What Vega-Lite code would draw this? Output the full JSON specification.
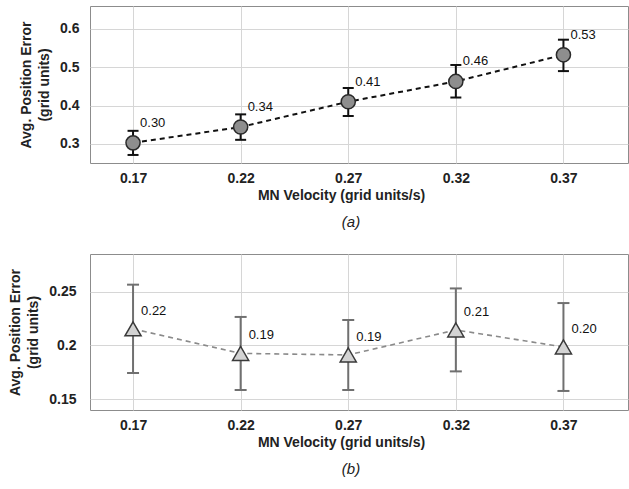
{
  "$schema": "https://vega.github.io/schema/vega-lite/v6.json",
  "padding": {"left": 8, "top": 5, "right": 2, "bottom": 0},
  "spacing": 22,
  "config": {
    "font": "Liberation Sans",
    "view": {"stroke": "#8c8c8c", "strokeWidth": 1},
    "axis": {
      "gridColor": "#d6d6d6",
      "gridWidth": 1,
      "domain": false,
      "ticks": false,
      "labelFontSize": 14,
      "labelFontWeight": "bold",
      "labelColor": "#222222",
      "titleFontSize": 14,
      "titleFontWeight": "bold",
      "titleColor": "#222222"
    }
  },
  "vconcat": [
    {
      "width": 538,
      "height": 157,
      "title": {"text": "(a)", "orient": "bottom", "fontStyle": "italic", "fontWeight": "normal", "fontSize": 15, "color": "#222222", "offset": 13, "anchor": "middle", "dx": -8},
      "data": {
        "values": [
          {"v": 0.17, "mean": 0.3026, "lo": 0.271, "hi": 0.334, "label": "0.30"},
          {"v": 0.22, "mean": 0.344, "lo": 0.3105, "hi": 0.377, "label": "0.34"},
          {"v": 0.27, "mean": 0.41, "lo": 0.373, "hi": 0.4456, "label": "0.41"},
          {"v": 0.32, "mean": 0.463, "lo": 0.421, "hi": 0.506, "label": "0.46"},
          {"v": 0.37, "mean": 0.5325, "lo": 0.49, "hi": 0.572, "label": "0.53"}
        ]
      },
      "encoding": {
        "x": {
          "field": "v", "type": "quantitative",
          "scale": {"domain": [0.15, 0.40], "nice": false, "zero": false},
          "axis": {"values": [0.17, 0.22, 0.27, 0.32, 0.37], "format": ".2f", "labelPadding": 8, "title": "MN Velocity (grid units/s)", "titlePadding": 3, "titleX": 251}
        }
      },
      "layer": [
        {
          "mark": {"type": "line", "strokeDash": [5, 4], "color": "#111111", "strokeWidth": 2},
          "encoding": {
            "y": {
              "field": "mean", "type": "quantitative",
              "scale": {"domain": [0.25, 0.66], "nice": false, "zero": false},
              "axis": {"values": [0.3, 0.4, 0.5, 0.6], "format": "~g", "labelPadding": 11, "title": ["Avg. Position Error", "(grid units)"], "titlePadding": 8, "titleLineHeight": 18}
            }
          }
        },
        {
          "mark": {"type": "rule", "color": "#111111", "strokeWidth": 2},
          "encoding": {
            "y": {"field": "lo", "type": "quantitative"},
            "y2": {"field": "hi"}
          }
        },
        {
          "mark": {"type": "tick", "orient": "horizontal", "size": 11, "thickness": 2, "color": "#111111", "opacity": 1},
          "encoding": {"y": {"field": "lo", "type": "quantitative"}}
        },
        {
          "mark": {"type": "tick", "orient": "horizontal", "size": 11, "thickness": 2, "color": "#111111", "opacity": 1},
          "encoding": {"y": {"field": "hi", "type": "quantitative"}}
        },
        {
          "mark": {"type": "point", "shape": "circle", "size": 200, "filled": true, "fill": "#8e8e8e", "stroke": "#2a2a2a", "strokeWidth": 1.5, "opacity": 1},
          "encoding": {"y": {"field": "mean", "type": "quantitative"}}
        },
        {
          "mark": {"type": "text", "align": "left", "baseline": "middle", "dx": 7, "dy": -20, "fontSize": 13, "color": "#111111"},
          "encoding": {
            "y": {"field": "mean", "type": "quantitative"},
            "text": {"field": "label"}
          }
        }
      ]
    },
    {
      "width": 538,
      "height": 156,
      "title": {"text": "(b)", "orient": "bottom", "fontStyle": "italic", "fontWeight": "normal", "fontSize": 15, "color": "#222222", "offset": 13, "anchor": "middle", "dx": -8},
      "data": {
        "values": [
          {"v": 0.17, "mean": 0.2154, "lo": 0.1744, "hi": 0.2565, "label": "0.22"},
          {"v": 0.22, "mean": 0.1926, "lo": 0.1586, "hi": 0.2265, "label": "0.19"},
          {"v": 0.27, "mean": 0.1912, "lo": 0.1586, "hi": 0.2237, "label": "0.19"},
          {"v": 0.32, "mean": 0.2144, "lo": 0.1759, "hi": 0.253, "label": "0.21"},
          {"v": 0.37, "mean": 0.1986, "lo": 0.1577, "hi": 0.2394, "label": "0.20"}
        ]
      },
      "encoding": {
        "x": {
          "field": "v", "type": "quantitative",
          "scale": {"domain": [0.15, 0.40], "nice": false, "zero": false},
          "axis": {"values": [0.17, 0.22, 0.27, 0.32, 0.37], "format": ".2f", "labelPadding": 8, "title": "MN Velocity (grid units/s)", "titlePadding": 3, "titleX": 251}
        }
      },
      "layer": [
        {
          "mark": {"type": "line", "strokeDash": [5, 4], "color": "#8a8a8a", "strokeWidth": 1.6},
          "encoding": {
            "y": {
              "field": "mean", "type": "quantitative",
              "scale": {"domain": [0.14, 0.285], "nice": false, "zero": false},
              "axis": {"values": [0.15, 0.2, 0.25], "format": "~g", "labelPadding": 14, "title": ["Avg. Position Error", "(grid units)"], "titlePadding": 8, "titleLineHeight": 18}
            }
          }
        },
        {
          "mark": {"type": "rule", "color": "#707070", "strokeWidth": 2},
          "encoding": {
            "y": {"field": "lo", "type": "quantitative"},
            "y2": {"field": "hi"}
          }
        },
        {
          "mark": {"type": "tick", "orient": "horizontal", "size": 12, "thickness": 2, "color": "#707070", "opacity": 1},
          "encoding": {"y": {"field": "lo", "type": "quantitative"}}
        },
        {
          "mark": {"type": "tick", "orient": "horizontal", "size": 12, "thickness": 2, "color": "#707070", "opacity": 1},
          "encoding": {"y": {"field": "hi", "type": "quantitative"}}
        },
        {
          "mark": {"type": "point", "shape": "triangle-up", "size": 260, "filled": true, "fill": "#d3d3d3", "stroke": "#3a3a3a", "strokeWidth": 1.5, "opacity": 1},
          "encoding": {"y": {"field": "mean", "type": "quantitative"}}
        },
        {
          "mark": {"type": "text", "align": "left", "baseline": "middle", "dx": 8, "dy": -18, "fontSize": 13, "color": "#111111"},
          "encoding": {
            "y": {"field": "mean", "type": "quantitative"},
            "text": {"field": "label"}
          }
        }
      ]
    }
  ]
}
